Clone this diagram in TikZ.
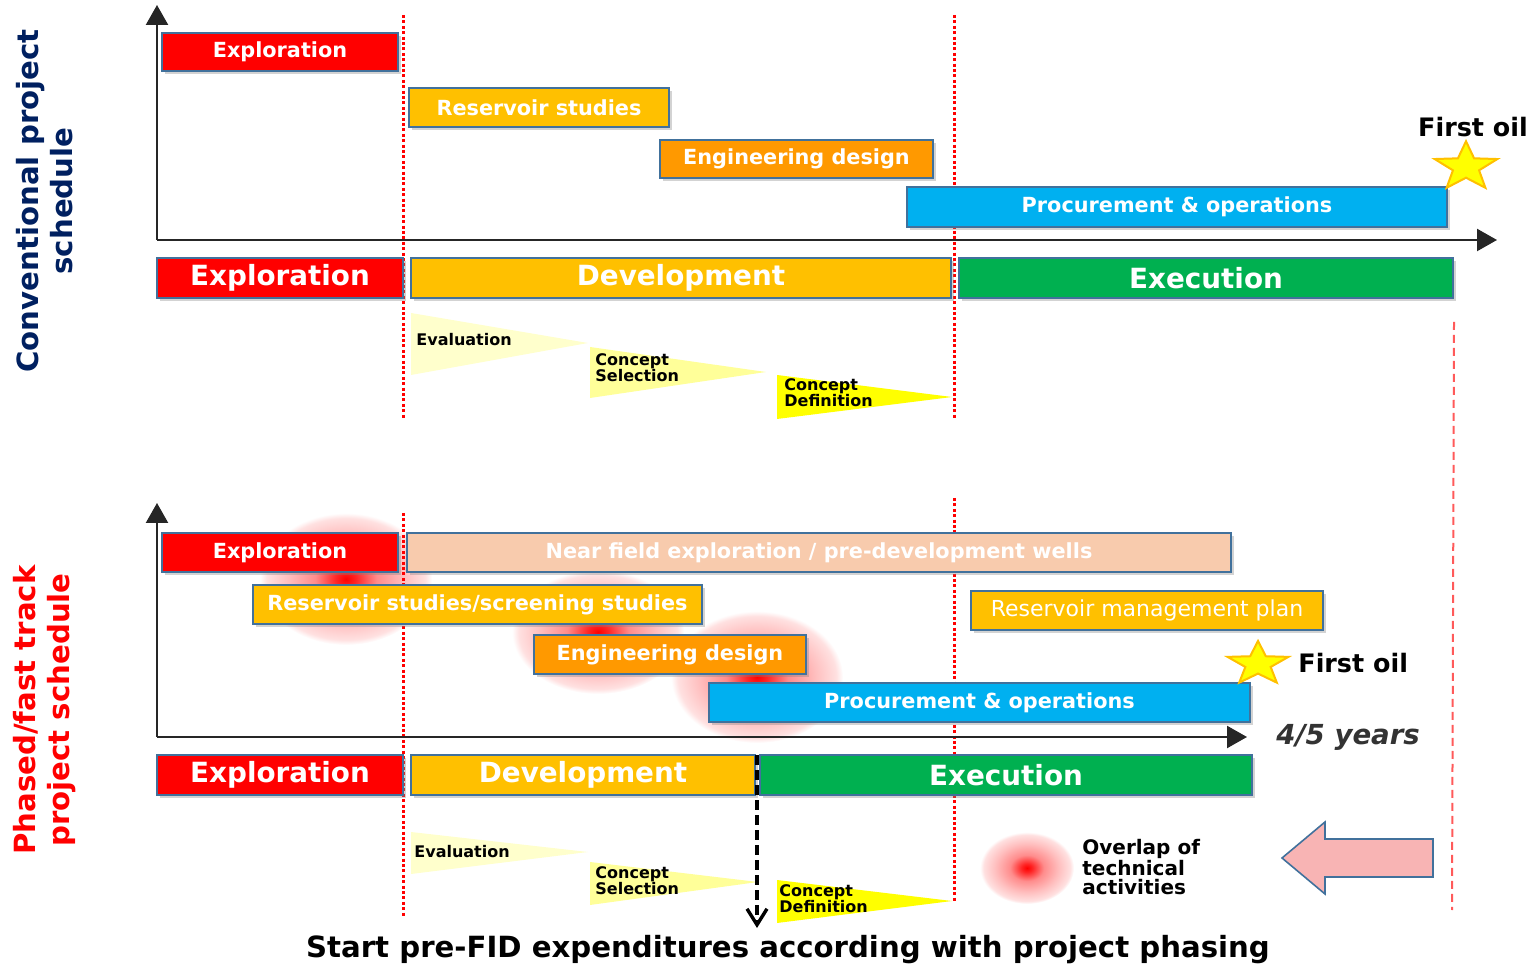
\documentclass[tikz,border=0pt]{standalone}
\usepackage{fontspec}
\setmainfont{DejaVu Sans}
\usetikzlibrary{positioning, shapes.geometric, shadows, arrows.meta}

\definecolor{explored}{HTML}{FF0000}
\definecolor{devgold}{HTML}{FFC000}
\definecolor{engorange}{HTML}{FF9900}
\definecolor{procblue}{HTML}{00B0F0}
\definecolor{execgreen}{HTML}{00B050}
\definecolor{nearpeach}{HTML}{F8CBAD}
\definecolor{barline}{HTML}{41719C}
\definecolor{tripale}{HTML}{FFFFCC}
\definecolor{trimid}{HTML}{FFFF99}
\definecolor{trifull}{HTML}{FFFF00}
\definecolor{navytitle}{HTML}{002060}
\definecolor{arrowpink}{HTML}{F8B4B4}
\definecolor{gatelight}{HTML}{FF5A5A}

\pgfdeclareradialshading{overlapblob}{\pgfpoint{0bp}{0bp}}{color(0bp)=(red); color(3bp)=(red!85); color(9bp)=(red!45); color(17bp)=(red!25); color(23bp)=(red!12); color(25bp)=(white); color(50bp)=(white)}

\begin{document}
\begin{tikzpicture}[
  x=0.5pt, y=-0.5pt,
  actbox/.style={rectangle, draw=barline, line width=0.6pt, anchor=north west, inner sep=0pt, outer sep=0pt, minimum height=19.5pt, text=white, font=\fontsize{10.4}{12}\selectfont\bfseries, drop shadow={shadow xshift=1.5pt, shadow yshift=-1.5pt, opacity=0.35}},
  phasebox/.style={actbox, minimum height=20pt, font=\fontsize{13.9}{16}\selectfont\bfseries},
  stagelabel/.style={anchor=west, align=left, inner sep=0pt, font=\fontsize{8}{8}\selectfont\bfseries},
  sidetitle/.style={rotate=90, align=center, font=\fontsize{14.6}{17}\selectfont\bfseries},
  oillabel/.style={font=\fontsize{12.7}{14}\selectfont\bfseries},
  oilstar/.style={star, star points=5, star point ratio=2.4, fill=trifull, draw=devgold, line width=1pt, minimum size=33pt, inner sep=0pt},
  axisline/.style={line width=1.2pt, draw=black!85, -{Triangle[length=10pt, width=11pt]}},
  gate/.style={draw=red, line width=1.5pt, dash pattern=on 1.5pt off 1.2pt},
  node distance=4pt,
]
\useasboundingbox (0,0) rectangle (1532,967);

%%% Overlap blobs
\shade[shading=overlapblob] (346,579) ellipse [x radius=43pt, y radius=33pt];
\shade[shading=overlapblob] (598,632) ellipse [x radius=43pt, y radius=31pt];
\shade[shading=overlapblob] (757,677) ellipse [x radius=43pt, y radius=33pt];
\shade[shading=overlapblob] (1027,868) ellipse [x radius=23.5pt, y radius=18pt];

%%% Gates
\foreach \gx/\gya/\gyb in {403/15/420, 954/15/420, 403/513/918, 954/498/902}
  \draw[gate] (\gx,\gya) -- (\gx,\gyb);
\draw[draw=gatelight, line width=1pt, dash pattern=on 4pt off 2.5pt] (1454,322) -- (1452,910);

%%% Axes
\coordinate (origA) at (157,240);
\coordinate (ytopA) at (157,5);
\coordinate (xendA) at (1497,240);
\coordinate (origB) at (157,737);
\coordinate (ytopB) at (157,503);
\coordinate (xendB) at (1247,737);
\draw[axisline] (origA) -- (ytopA);
\draw[axisline] (origA) -- (xendA);
\draw[axisline] (origB) -- (ytopB);
\draw[axisline] (origB) -- (xendB);

%%% Conventional schedule
\node[sidetitle, text=navytitle] (convtitle) at (45,201) {Conventional project\\schedule};
\node[actbox, fill=explored, minimum width=118pt, minimum height=19pt] (explA) at (162,33) {Exploration};
\node[actbox, fill=devgold, minimum width=130pt] (resvA) at (409,88) {Reservoir studies};
\node[actbox, fill=engorange, minimum width=136.5pt, minimum height=19pt] (engA) at (660,140) {Engineering design};
\node[actbox, fill=procblue, minimum width=270pt, minimum height=20pt] (procA) at (907,187) {Procurement \& operations};
\node[oillabel] (oilA) at (1473,127) {First oil};
\begin{scope}[shift={(1466,167)}, yscale=0.78]
  \node[oilstar, transform shape] (starA) at (0,0) {};
\end{scope}

\node[phasebox, fill=explored, minimum width=123pt] (phExplA) at (157,258) {Exploration};
\node[phasebox, fill=devgold, minimum width=270pt, right=of phExplA] (phDevA) {Development};
\node[phasebox, fill=execgreen, minimum width=247pt, right=of phDevA] (phExecA) {Execution};

\fill[tripale] (411,313) -- (588,343) -- (411,375) -- cycle;
\fill[trimid] (590,347) -- (766,372) -- (590,398) -- cycle;
\fill[trifull] (777,375) -- (952,397) -- (777,419) -- cycle;
\node[stagelabel] (evalA) at (416,340) {Evaluation};
\node[stagelabel] (cselA) at (595,368) {Concept\\Selection};
\node[stagelabel] (cdefA) at (784,393) {Concept\\Definition};

%%% Phased / fast track schedule
\node[sidetitle, text=red] (fasttitle) at (45,710) {Phased/fast track\\project schedule};
\node[actbox, fill=explored, minimum width=118pt] (explB) at (162,533) {Exploration};
\node[actbox, fill=nearpeach, minimum width=412pt] (nearB) at (407,533) {Near field exploration / pre-development wells};
\node[actbox, fill=devgold, minimum width=224.5pt] (resvB) at (253,585) {Reservoir studies/screening studies};
\node[actbox, fill=devgold, minimum width=176pt, font=\fontsize{11}{13}\selectfont] (mgmtB) at (971,591) {Reservoir management plan};
\node[actbox, fill=engorange, minimum width=136pt] (engB) at (534,635) {Engineering design};
\node[actbox, fill=procblue, minimum width=270.5pt] (procB) at (709,683) {Procurement \& operations};
\begin{scope}[shift={(1258,664)}, yscale=0.72]
  \node[oilstar, minimum size=32pt, transform shape] (starB) at (0,0) {};
\end{scope}
\node[oillabel, anchor=west, inner sep=0pt] (oilB) at (1298,663) {First oil};
\node[anchor=west, inner sep=0pt, text=black!80, font=\fontsize{13.8}{15}\selectfont\bfseries\itshape] (yearsB) at (1276,737) {4/5 years};

\node[phasebox, fill=explored, minimum width=123pt] (phExplB) at (157,755) {Exploration};
\node[phasebox, fill=devgold, minimum width=172pt, right=of phExplB] (phDevB) {Development};
\node[phasebox, fill=execgreen, minimum width=246pt, right=2.5pt of phDevB] (phExecB) {Execution};

\fill[tripale] (411,832) -- (588,852) -- (411,874) -- cycle;
\fill[trimid] (590,862) -- (758,882) -- (590,905) -- cycle;
\fill[trifull] (777,880) -- (952,901) -- (777,923) -- cycle;
\node[stagelabel] (evalB) at (414,852) {Evaluation};
\node[stagelabel] (cselB) at (595,881) {Concept\\Selection};
\node[stagelabel] (cdefB) at (779,899) {Concept\\Definition};

\coordinate (spendend) at (757,928);
\draw[line width=1.7pt, dash pattern=on 5pt off 2.5pt, -{Straight Barb[length=8pt, width=10pt]}] ([xshift=1pt]phDevB.north east) -- ([xshift=1pt]phDevB.north east |- spendend);

%%% Legend
\node[anchor=west, align=left, inner sep=0pt, font=\fontsize{10}{9.6}\selectfont\bfseries] (overlapnote) at (1082,867) {Overlap of\\technical\\activities};
\draw[draw=barline, line width=0.8pt, fill=arrowpink] (1433,839) -- (1325,839) -- (1325,822) -- (1282,858) -- (1325,894) -- (1325,877) -- (1433,877) -- cycle;

\node[font=\fontsize{14.6}{16}\selectfont\bfseries] (caption) at (788,950) {Start pre-FID expenditures according with project phasing};

\end{tikzpicture}
\end{document}
